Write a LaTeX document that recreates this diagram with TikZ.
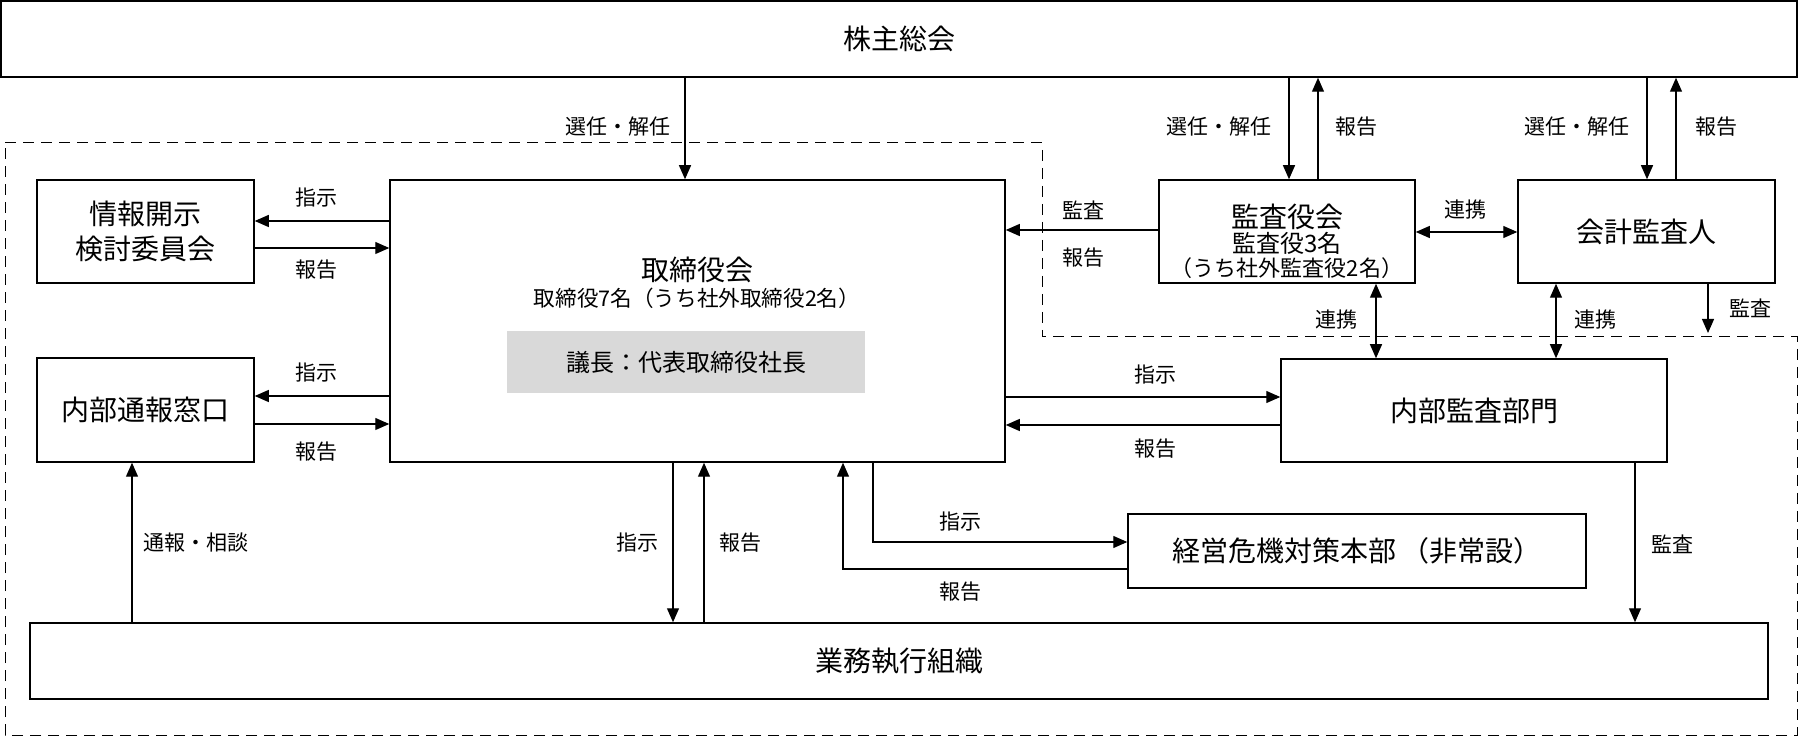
\documentclass[tikz,border=0pt]{standalone}
\usepackage{fontspec}
\setmainfont{Noto Sans CJK JP}
\usetikzlibrary{arrows.meta}
\definecolor{gichogray}{HTML}{D9D9D9}
\tikzset{
	box/.style={draw, line width=0.75pt, inner sep=0pt, font=\fontsize{14}{17.5}\selectfont},
	arr/.style={line width=0.6pt, -{Triangle[length=7pt,width=6pt]}},
	dblarr/.style={line width=0.6pt, {Triangle[length=7pt,width=6pt]}-{Triangle[length=7pt,width=6pt]}},
	lbl/.style={inner sep=0pt, font=\fontsize{10.5}{12}\selectfont},
}

\begin{document}
\begin{tikzpicture}[x=0.5pt,y=-0.5pt]
		\useasboundingbox (0,0) rectangle (1800,737);
		
		\draw[dash pattern=on 5.5pt off 3.5pt, line width=0.5pt] (5,143) -- (1042,143) -- (1042,337) -- (1797,337) -- (1797,735) -- (5,735) -- cycle;
		
		\node[box, minimum width=898pt, minimum height=38pt] (soukai) at (899,39) {株主総会};
		\node[box, minimum width=108.5pt, minimum height=51.5pt, align=center] (jouhou) at (145.5,231.5) {情報開示\\検討委員会};
		\node[box, minimum width=108.5pt, minimum height=52pt] (madoguchi) at (145.5,410) {内部通報窓口};
		
		\node[box, minimum width=307.5pt, minimum height=141pt] (board) at (697.5,321) {};
		\node[font=\fontsize{14}{16}\selectfont] (boardname) at (697,270) {取締役会};
		\node[font=\fontsize{10.8}{12}\selectfont] (boardsub) at (697,298) {取締役7名（うち社外取締役2名）};
		\node[fill=gichogray, minimum width=179pt, minimum height=31pt, font=\fontsize{12}{14}\selectfont] (gicho) at (686,362) {議長：代表取締役社長};
		
		\node[box, minimum width=128pt, minimum height=51.5pt] (kansayaku) at (1287,231.5) {};
		\node[font=\fontsize{14}{16}\selectfont] (kansaname) at (1287,217) {監査役会};
		\node[font=\fontsize{12}{14}\selectfont] (kansasub) at (1287,243) {監査役3名};
		\node[font=\fontsize{11}{13}\selectfont] (kansasub2) at (1287,268) {（うち社外監査役2名）};
		
		\node[box, minimum width=128.5pt, minimum height=51.5pt] (kaikei) at (1646.5,231.5) {会計監査人};
		\node[box, minimum width=193pt, minimum height=51.5pt] (naibukansa) at (1474,410.5) {内部監査部門};
		\node[box, minimum width=229pt, minimum height=37pt] (keiei) at (1357,551) {経営危機対策本部\,（非常設）};
		\node[box, minimum width=869pt, minimum height=38pt] (gyomu) at (899,661) {業務執行組織};
		
		\draw[arr] (soukai.south -| 685,0) -- (board.north -| 685,0);
		\draw[arr] (soukai.south -| 1289,0) -- (kansayaku.north -| 1289,0);
		\draw[arr] (kansayaku.north -| 1318,0) -- (soukai.south -| 1318,0);
		\draw[arr] (soukai.south -| 1647,0) -- (kaikei.north -| 1647,0);
		\draw[arr] (kaikei.north -| 1676,0) -- (soukai.south -| 1676,0);
		
		\draw[arr] (board.west |- 0,221) -- (jouhou.east |- 0,221);
		\draw[arr] (jouhou.east |- 0,248) -- (board.west |- 0,248);
		\draw[arr] (board.west |- 0,396) -- (madoguchi.east |- 0,396);
		\draw[arr] (madoguchi.east |- 0,424) -- (board.west |- 0,424);
		
		\draw[arr] (kansayaku.west |- 0,230) -- (board.east |- 0,230);
		\draw[dblarr] (kansayaku.east |- 0,232) -- (kaikei.west |- 0,232);
		\draw[dblarr] (kansayaku.south -| 1376,0) -- (naibukansa.north -| 1376,0);
		\draw[dblarr] (kaikei.south -| 1556,0) -- (naibukansa.north -| 1556,0);
		\coordinate (kaikeiout) at (1708,333);
		\draw[arr] (kaikei.south -| kaikeiout) -- (kaikeiout);
		
		\draw[arr] (board.east |- 0,397) -- (naibukansa.west |- 0,397);
		\draw[arr] (naibukansa.west |- 0,425) -- (board.east |- 0,425);
		\draw[arr] (board.south -| 873,0) |- (keiei.west |- 0,542);
		\draw[arr] (keiei.west |- 0,569) -| (board.south -| 843,0);
		
		\draw[arr] (gyomu.north -| 132,0) -- (madoguchi.south -| 132,0);
		\draw[arr] (board.south -| 673,0) -- (gyomu.north -| 673,0);
		\draw[arr] (gyomu.north -| 704,0) -- (board.south -| 704,0);
		\draw[arr] (naibukansa.south -| 1635,0) -- (gyomu.north -| 1635,0);
		
		\foreach \nm/\px/\py/\txt in {senin1/618/127/選任・解任, senin2/1219/127/選任・解任, hokoku2/1356/127/報告,
			senin3/1577/127/選任・解任, hokoku3/1716/127/報告, shiji1/316/198/指示, hokoku1/316/270/報告,
			shiji2/316/373/指示, hokoku4/316/452/報告, kansa1/1083/210/監査, hokoku5/1083/258/報告,
			renkei1/1465/210/連携, renkei2/1336/320/連携, renkei3/1595/320/連携, kansa2/1750/308/監査,
			shiji3/1155/375/指示, hokoku6/1155/449/報告, shiji4/960/522/指示, hokoku7/960/592/報告,
			tsuho/196/543/通報・相談, shiji5/637/543/指示, hokoku8/740/543/報告, kansa3/1672/544/監査}
		\node[lbl] (\nm) at (\px,\py) {\txt};
		
	\end{tikzpicture}
\end{document}
